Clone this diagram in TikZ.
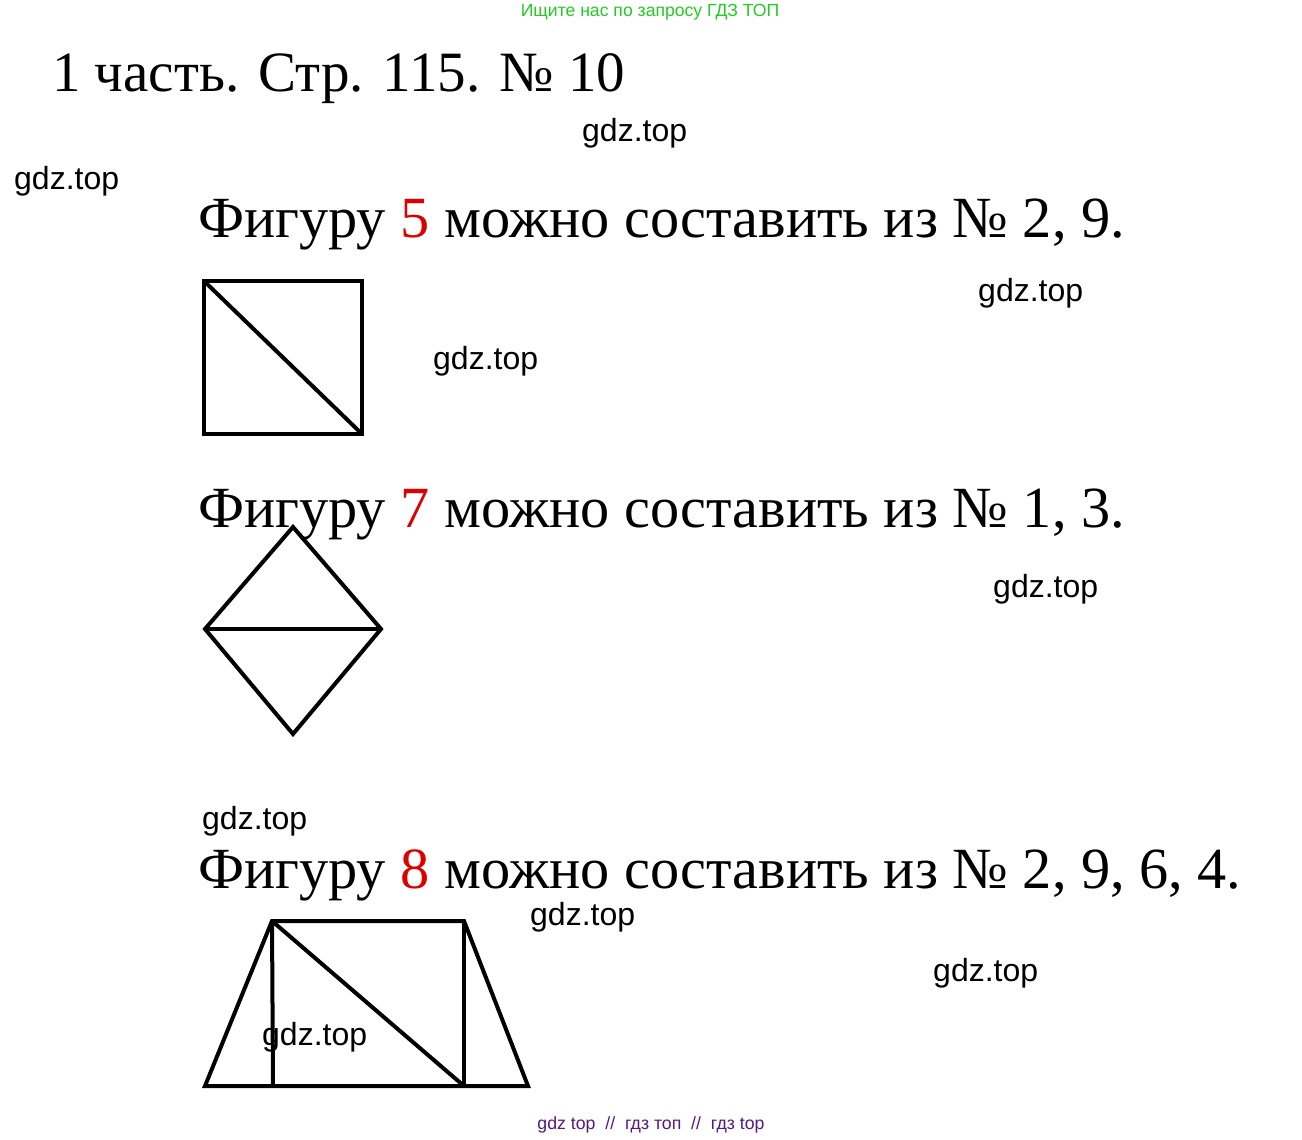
\documentclass[tikz,border=0pt]{standalone}
\usepackage{fontspec}
\setmainfont{Liberation Serif}
\newfontfamily\wmfont{Liberation Sans}
\definecolor{wmgreen}{RGB}{34,204,34}
\definecolor{wmpurple}{RGB}{88,24,130}
\definecolor{numred}{RGB}{220,0,0}
\begin{document}
\begin{tikzpicture}[x=1pt,y=-1pt,
  wm/.style={font=\wmfont\fontsize{32}{32}\selectfont, inner sep=0pt, anchor=base west},
  big/.style={font=\fontsize{58.3}{60}\selectfont, inner sep=0pt, anchor=base west},
  fig/.style={line width=4pt, line join=miter}]
\useasboundingbox[fill=white] (0,0) rectangle (1302,1140);
% top and bottom banners
\node[font=\wmfont\fontsize{17.6}{17.6}\selectfont, text=wmgreen, inner sep=0pt] (banner) at (650,12) {Ищите нас по запросу ГДЗ ТОП};
\node[font=\wmfont\fontsize{17.7}{17.7}\selectfont, text=wmpurple, inner sep=0pt] (footer) at (651,1125) {gdz top~~//~~гдз топ~~//~~гдз top};
% title
\node[big, font=\fontsize{57}{60}\selectfont] (title) at (52,92) {1 часть. Стр. 115. № 10};
% headings
\node[big] (h1) at (198,237) {Фигуру \textcolor{numred}{5} можно составить из № 2, 9.};
\node[big] (h2) at (198,527) {Фигуру \textcolor{numred}{7} можно составить из № 1, 3.};
\node[big] (h3) at (198,888) {Фигуру \textcolor{numred}{8} можно составить из № 2, 9, 6, 4.};
% watermarks
\node[wm] (w1) at (582,141) {gdz.top};
\node[wm] (w2) at (14,189) {gdz.top};
\node[wm] (w3) at (978,301) {gdz.top};
\node[wm] (w4) at (433,369) {gdz.top};
\node[wm] (w5) at (993,597) {gdz.top};
\node[wm] (w6) at (202,829) {gdz.top};
\node[wm] (w7) at (530,925) {gdz.top};
\node[wm] (w8) at (933,981) {gdz.top};
% figure 5: square with diagonal
\coordinate (sA) at (204,281);
\coordinate (sB) at (362,281);
\coordinate (sC) at (362,434);
\coordinate (sD) at (204,434);
\draw[fig] (sA) -- (sB) -- (sC) -- (sD) -- cycle;
\draw[fig] (sA) -- (sC);
% figure 7: diamond
\coordinate (dT) at (293,527);
\coordinate (dL) at (205,629);
\coordinate (dR) at (381,629);
\coordinate (dB) at (293,734);
\draw[fig] (dT) -- (dR) -- (dB) -- (dL) -- cycle;
\draw[fig] (dL) -- (dR);
% figure 8: trapezoid
\coordinate (tBL) at (205,1086);
\coordinate (tTL) at (272,921);
\coordinate (tTR) at (464,921);
\coordinate (tBR) at (528,1086);
\coordinate (tIL) at (273,1086);
\coordinate (tIR) at (464,1086);
\draw[fig] (tBL) -- (tTL) -- (tTR) -- (tBR) -- cycle;
\draw[fig] (tTL) -- (tIL);
\draw[fig] (tTR) -- (tIR);
\draw[fig] (tTL) -- (tIR);
\node[wm] (w9) at (262,1045) {gdz.top};
\end{tikzpicture}
\end{document}
